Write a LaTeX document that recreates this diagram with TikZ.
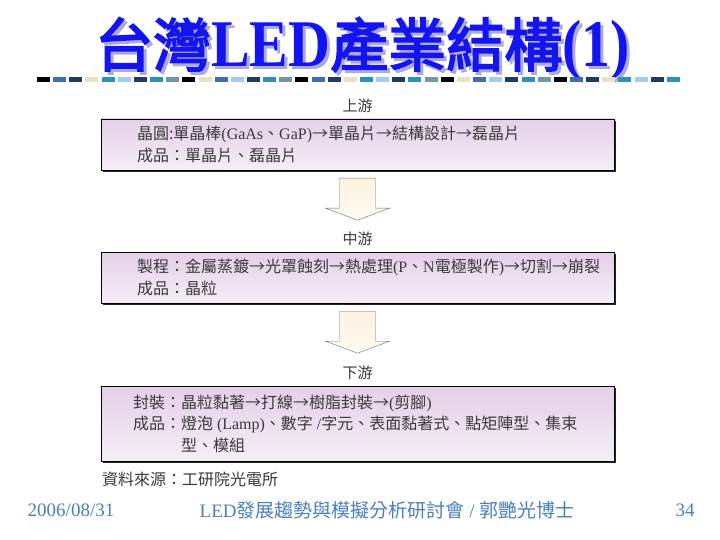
\documentclass[tikz,border=0pt]{standalone}
\usepackage{graphicx}
\usepackage{fontspec}
\setmainfont{Noto Sans CJK TC}
\newfontfamily\en{Liberation Serif}
\newfontfamily\zhbold[FakeBold=3]{Noto Sans CJK TC}
\usepackage{xcolor}
\definecolor{cTitle}{HTML}{1414F0}
\definecolor{cShade}{HTML}{ABABD6}
\definecolor{cLav}{HTML}{E4CFE8}
\definecolor{cCream}{HTML}{FDF3DF}
\definecolor{cText}{HTML}{3A3A3A}
\definecolor{cFoot}{HTML}{4A80C0}
\definecolor{barA}{HTML}{3D6DB5}
\definecolor{barB}{HTML}{1F3A66}
\definecolor{barC}{HTML}{E6E2C6}
\definecolor{barD}{HTML}{2A92BE}
\definecolor{barE}{HTML}{A3CDF0}
\definecolor{barF}{HTML}{6F97A8}
\usetikzlibrary{positioning,calc,shadows}
\tikzset{
  head-title/.style={text=cTitle,inner sep=0pt,
    font=\zhbold\fontsize{58}{60}\selectfont},
  head-shade/.style={head-title,text=cShade},
  stage-box/.style={draw=black,thin,minimum width=513pt,minimum height=#1,
    top color=cLav,bottom color=cLav!35,
    drop shadow={shadow xshift=2pt,shadow yshift=-2pt,fill=black!85,opacity=1}},
  stage-text/.style={anchor=west,align=left,text=cText,inner sep=0pt,
    font=\fontsize{16}{21.5}\selectfont},
  stage-label/.style={text=cText,inner sep=0pt,font=\fontsize{15}{18}\selectfont},
  stage-arrow/.style={draw=black!55,top color=cCream,bottom color=cCream!40,
    line join=miter},
  foot-text/.style={text=cFoot,inner sep=0pt,font=\fontsize{19}{22}\selectfont},
}
\newcommand\TitleStr{台灣\scalebox{1}[1.15]{\en\bfseries LED}產業結構%
  \scalebox{1}[1.15]{\en\bfseries (1)}}

\begin{document}
\begin{tikzpicture}[x=1pt,y=-1pt]
  \fill[white] (0,0) rectangle (720,540);
  \useasboundingbox (0,0) rectangle (720,540);
  % title and bar
  \node[head-shade] (titleShadow) at (365.5,52) {\TitleStr};
  \node[head-title] (title) at (362.5,49) {\TitleStr};
  \foreach \i in {0,...,39}{
    \pgfmathsetmacro{\barcol}{{"black","barA","barB","barC","barD","barE",%
      "barB","barD","barF","black","barC","barA","barE","barB","barD","barF"}[mod(\i,16)]}
    \fill[\barcol] (37+16.15*\i,77) rectangle ++(13,5);
  }
  % stages
  \node[stage-box=51pt] (up)   at (357.5,144.5) {};
  \node[stage-box=51pt] (mid)  at (357.5,277.5) {};
  \node[stage-box=75pt] (down) at (357.5,423.5) {};
  \node[stage-label,above=6pt of up]   (upLbl)   {上游};
  \node[stage-label,above=6pt of mid]  (midLbl)  {中游};
  \node[stage-label,above=6pt of down] (downLbl) {下游};
  \node[stage-text] (upTxt) at ([xshift=36pt]up.west)
    {晶圓:單晶棒{\en(GaAs}、{\en GaP)}→單晶片→結構設計→磊晶片\\
     成品：單晶片、磊晶片};
  \node[stage-text] (midTxt) at ([xshift=36pt]mid.west)
    {製程：金屬蒸鍍→光罩蝕刻→熱處理{\en(P}、{\en N}電極製作{\en)}→切割→崩裂\\
     成品：晶粒};
  \node[stage-text] (downTxt) at ([xshift=32pt]down.west)
    {封裝：晶粒黏著→打線→樹脂封裝→{\en(}剪腳{\en)}\\
     成品：燈泡{\en\ (Lamp)}、數字{\en\ /}字元、表面黏著式、點矩陣型、集束\\
     \hspace*{3em}型、模組};
  \foreach \a in {up,mid}
    \draw[stage-arrow] ($(\a.south)+(-18,8)$) -- ++(36,0) -- ++(0,30)
      -- ++(14,0) -- ++(-32,12) -- ++(-32,-12) -- ++(14,0) -- cycle;
  \node[stage-text,anchor=north west,below right=11pt and 1pt of down.south west]
    (src) {資料來源：工研院光電所};
  % footer
  \node[foot-text] (date) at (71,510) {\en 2006/08/31};
  \node[foot-text] (event) at (387,510)
    {{\en LED}發展趨勢與模擬分析研討會{\en\ /\ }郭艷光博士};
  \node[foot-text] (page) at (685,510) {\en 34};
\end{tikzpicture}
\end{document}
